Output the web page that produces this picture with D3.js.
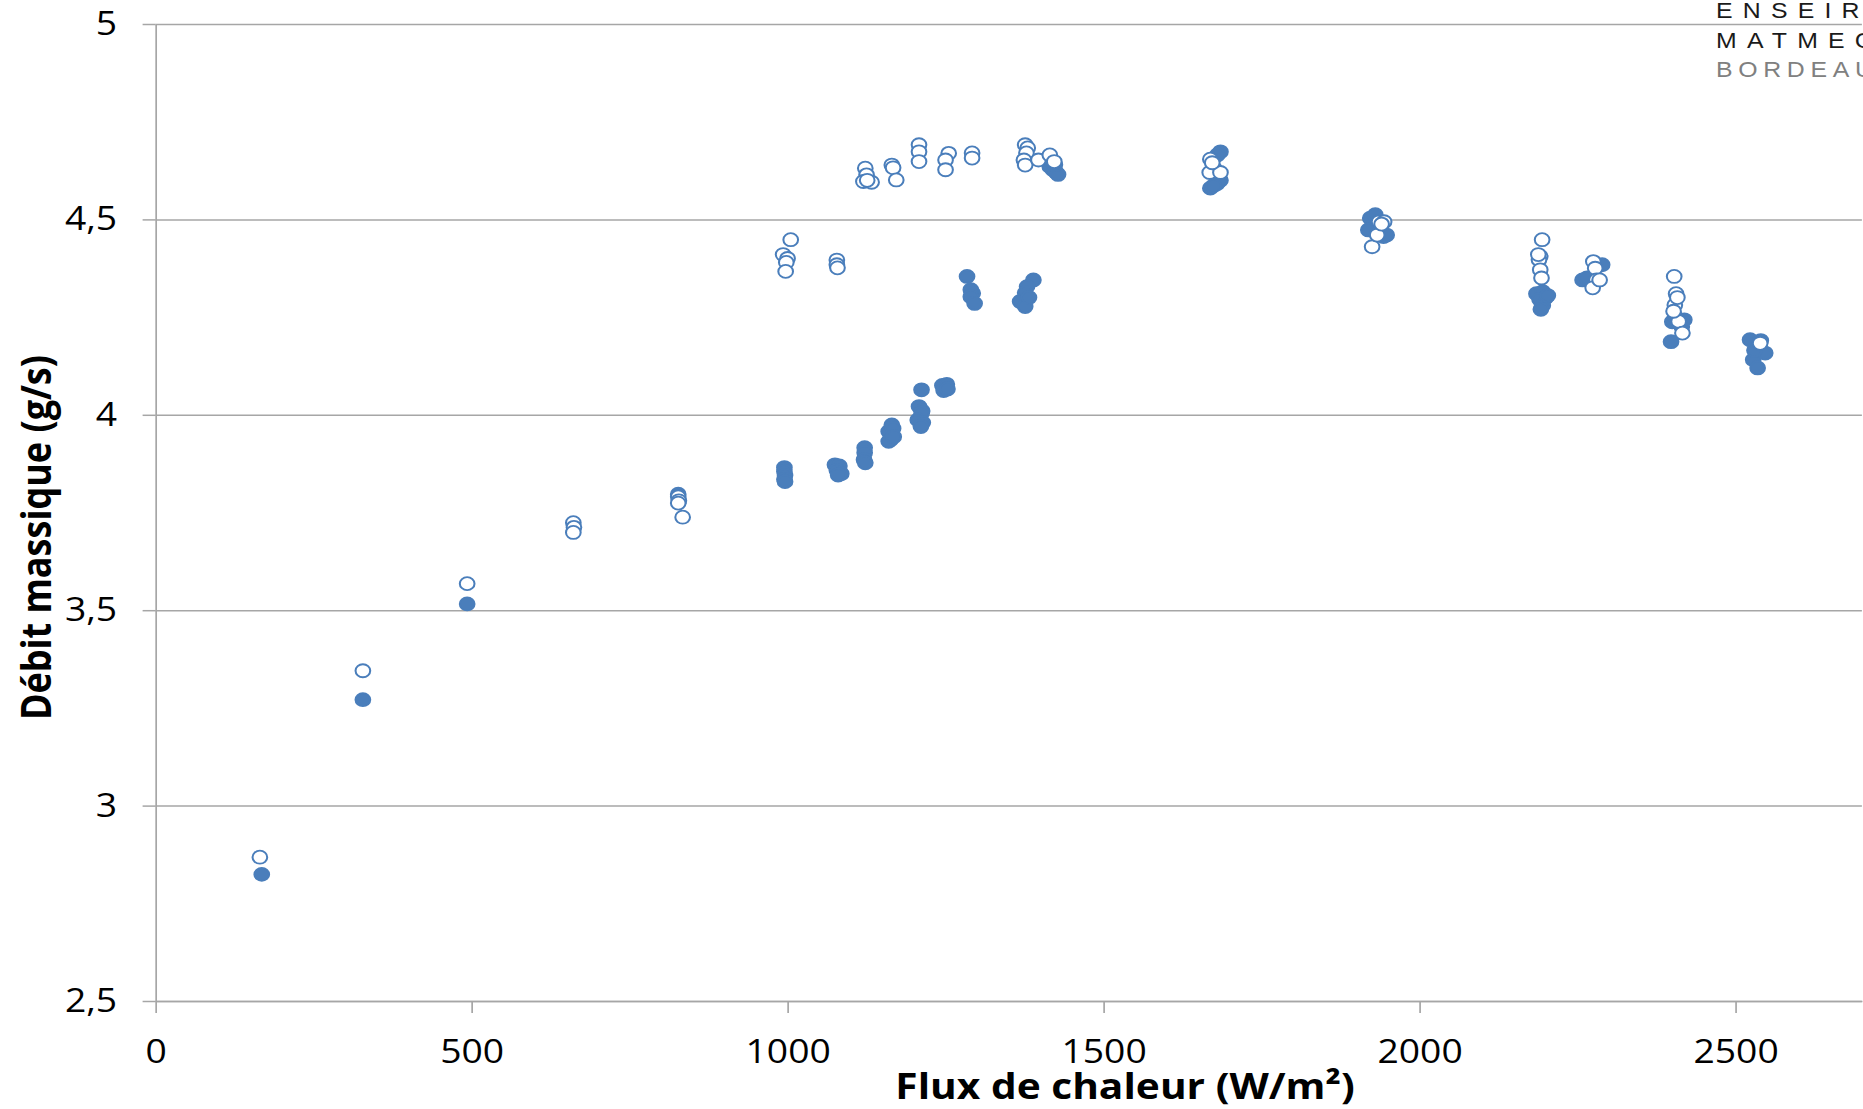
<!DOCTYPE html>
<html lang="fr">
<head>
<meta charset="utf-8">
<title>Débit massique en fonction du flux de chaleur</title>
<script src="https://d3js.org/d3.v7.min.js"></script>
<style>
  html, body { margin: 0; padding: 0; background: #fff; overflow: hidden; }
  text { font-family: "Open Sans", sans-serif; }
  .grid line { stroke: #a6a6a6; stroke-width: 1.5px; }
  .grid path { display: none; }
  .axis path, .axis line { stroke: #a6a6a6; stroke-width: 1.5px; }
  .axis text { font-size: 33px; fill: #000; }
  .titre { font-size: 36px; font-weight: bold; fill: #000; }
  .logo { font-family: "Liberation Sans", Arial, sans-serif; font-size: 22px; }
</style>
</head>
<body>
<script>
// points pleins
var fluxPlein = [168, 328, 493, 827,
  995, 995, 996, 995, 996,
  1075, 1082, 1078, 1085, 1080,
  1122, 1122, 1121, 1123,
  1160, 1165, 1167, 1163, 1160, 1168,
  1212,
  1208, 1213, 1212, 1206, 1214, 1211,
  1245, 1252, 1247, 1253,
  1284, 1290, 1293, 1290, 1296,
  1389, 1379, 1376, 1368, 1376, 1382,
  1415, 1420, 1425, 1428, 1423,
  1685, 1680, 1669, 1680, 1685, 1674,
  1922, 1930, 1943, 1919, 1948,
  2185, 2195, 2200, 2190, 2195, 2192, 2203,
  2289, 2258, 2265,
  2398, 2400, 2419, 2405, 2415,
  2523, 2540, 2547, 2528, 2535, 2530];
var debitPlein = [2.824, 3.271, 3.516, 3.797,
  3.865, 3.855, 3.845, 3.835, 3.829,
  3.872, 3.869, 3.858, 3.849, 3.846,
  3.916, 3.903, 3.885, 3.877,
  3.957, 3.974, 3.965, 3.936, 3.932, 3.944,
  4.064,
  4.021, 4.010, 4.004, 3.987, 3.980, 3.970,
  4.075, 4.078, 4.062, 4.066,
  4.354, 4.320, 4.311, 4.302, 4.285,
  4.345, 4.328, 4.312, 4.290, 4.277, 4.300,
  4.635, 4.627, 4.620, 4.615, 4.640,
  4.673, 4.665, 4.580, 4.592, 4.600, 4.586,
  4.503, 4.512, 4.456, 4.473, 4.460,
  4.310, 4.315, 4.300, 4.295, 4.280, 4.270, 4.305,
  4.384, 4.345, 4.350,
  4.187, 4.238, 4.243, 4.250, 4.225,
  4.192, 4.190, 4.158, 4.141, 4.120, 4.165];

// points creux
var fluxCreux = [165, 328, 493,
  661, 662, 661,
  827, 828, 827, 834,
  1005, 993, 1000, 998, 997,
  1078, 1078, 1079,
  1123, 1125, 1120, 1133, 1126,
  1165, 1167, 1172,
  1208, 1208, 1208,
  1255, 1250, 1250,
  1292, 1292,
  1376, 1380, 1378, 1374, 1376, 1397, 1415, 1422,
  1669, 1675, 1668, 1685, 1672,
  1936, 1925, 1933, 1944, 1940,
  2194, 2191, 2189, 2191, 2193, 2188,
  2275, 2278, 2280, 2274, 2285,
  2403, 2406, 2404, 2410, 2416, 2408, 2402,
  2539];
var debitCreux = [2.868, 3.345, 3.568,
  3.724, 3.712, 3.699,
  3.790, 3.780, 3.774, 3.738,
  4.448, 4.410, 4.400, 4.390, 4.367,
  4.396, 4.384, 4.376,
  4.631, 4.614, 4.597, 4.595, 4.600,
  4.639, 4.632, 4.601,
  4.691, 4.673, 4.648,
  4.669, 4.652, 4.627,
  4.670, 4.657,
  4.691, 4.683, 4.670, 4.652, 4.639, 4.652, 4.665, 4.648,
  4.654, 4.631, 4.620, 4.620, 4.645,
  4.494, 4.430, 4.460, 4.494, 4.488,
  4.448, 4.405, 4.397, 4.371, 4.350, 4.410,
  4.392, 4.375, 4.345, 4.325, 4.345,
  4.354, 4.310, 4.281, 4.239, 4.209, 4.300, 4.265,
  4.183];

var xTicks = [0, 500, 1000, 1500, 2000, 2500];
var yTicks = [2.5, 3, 3.5, 4, 4.5, 5];
var logoLignes = ["ENSEIRB", "MATMECA", "BORDEAUX"];

// l'image d'origine est etiree horizontalement
var W = 1863, H = 1109, etirement = 1.13;
var vbW = W / etirement;

var margin = {left: 137.7, top: 24};
var width = 1510;
var height = 977;

var x = d3.scaleLinear().domain([0, 2700]).range([0, width]);
var y = d3.scaleLinear().domain([2.5, 5]).range([height, 0]);

var svg = d3.select("body").append("svg")
  .attr("width", W).attr("height", H)
  .attr("viewBox", "0 0 " + vbW + " " + H)
  .attr("preserveAspectRatio", "none");

var chartGroup = svg.append("g")
  .attr("transform", "translate(" + margin.left + "," + margin.top + ")");

chartGroup.append("g")
  .attr("class", "grid")
  .call(d3.axisLeft(y).tickValues(yTicks).tickSize(-width).tickFormat(""));

chartGroup.append("g")
  .attr("class", "axis y")
  .call(d3.axisLeft(y).tickValues(yTicks).tickSize(11.5).tickSizeOuter(0).tickPadding(22.5)
    .tickFormat(function(d) { return String(d).replace(".", ","); }));

chartGroup.append("g")
  .attr("class", "axis x")
  .attr("transform", "translate(0," + height + ")")
  .call(d3.axisBottom(x).tickValues(xTicks).tickSize(12).tickSizeOuter(0).tickPadding(26.6)
    .tickFormat(d3.format("d")));

var plein = d3.zip(fluxPlein, debitPlein);
var creux = d3.zip(fluxCreux, debitCreux);

chartGroup.append("g").selectAll("circle")
  .data(plein).enter().append("circle")
  .attr("cx", function(d) { return x(d[0]); })
  .attr("cy", function(d) { return y(d[1]); })
  .attr("r", 6.5)
  .attr("fill", "#4a7ebb")
  .attr("stroke", "#4a7ebb")
  .attr("stroke-width", 1.8);

chartGroup.append("g").selectAll("circle")
  .data(creux).enter().append("circle")
  .attr("cx", function(d) { return x(d[0]); })
  .attr("cy", function(d) { return y(d[1]); })
  .attr("r", 6.5)
  .attr("fill", "#fff")
  .attr("stroke", "#4a7ebb")
  .attr("stroke-width", 1.8);

svg.append("text")
  .attr("class", "titre")
  .attr("transform", "translate(34,537.6) rotate(-90)")
  .attr("text-anchor", "middle")
  .attr("dy", "0.3em")
  .text("Débit massique (g/s)");

svg.append("text")
  .attr("class", "titre")
  .attr("x", 995.6)
  .attr("y", 1099)
  .attr("text-anchor", "middle")
  .text("Flux de chaleur (W/m²)");

// logo, coupe par le bord droit comme dans l'original
svg.append("g").selectAll("text")
  .data(logoLignes).enter().append("text")
  .attr("class", "logo")
  .attr("x", 1518.6)
  .attr("y", function(d, i) { return [18, 48, 77][i]; })
  .attr("letter-spacing", function(d, i) { return [9, 9, 5][i]; })
  .attr("font-size", function(d, i) { return i < 2 ? 22 : 20; })
  .attr("fill", function(d, i) { return i < 2 ? "#1a1a1a" : "#808080"; })
  .text(function(d) { return d; });
</script>
</body>
</html>
